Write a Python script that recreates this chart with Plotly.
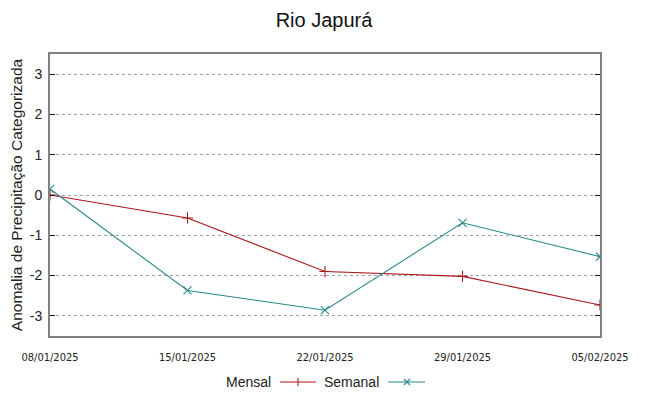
import plotly.graph_objects as go

dates = ["08/01/2025", "15/01/2025", "22/01/2025", "29/01/2025", "05/02/2025"]
mensal = [0.0, -0.57, -1.90, -2.02, -2.73]
semanal = [0.15, -2.37, -2.86, -0.69, -1.53]
yticks = [-3, -2, -1, 0, 1, 2, 3]
ytick_labels = ["-3", "-2", "-1", "0", "1", "2", "3"]

RED = "#a8181c"
TEAL = "#2a8888"

fig = go.Figure()
fig.add_trace(go.Scatter(x=dates, y=mensal, mode="lines+markers", name="Mensal",
                         line=dict(color=RED, width=1.1),
                         marker=dict(symbol="cross-thin", size=8, line=dict(color=RED, width=1.1))))
fig.add_trace(go.Scatter(x=dates, y=semanal, mode="lines+markers", name="Semanal",
                         line=dict(color=TEAL, width=1.1),
                         marker=dict(symbol="x-thin", size=8, line=dict(color=TEAL, width=1.1))))

OFF = 8  # page body margin compensation
W, H = 648 - OFF, 396 - OFF
L, R, T, B = 50 - OFF, 48, 54 - OFF, 60
pw, ph = W - L - R, H - T - B

def px(x):
    return (x - OFF - L) / pw

def py(y):
    return (H - B - (y - OFF)) / ph

# custom legend (text left of sample, gnuplot style)
ly = 382
legend_items = [("Mensal", 273, 280, 316, 298, RED, "plus"),
                ("Semanal", 381, 388, 425, 407, TEAL, "x")]
for name, tx, x0, x1, xm, col, kind in legend_items:
    fig.add_annotation(x=px(tx), y=py(ly), xref="paper", yref="paper", text=name,
                       showarrow=False, xanchor="right", yanchor="middle",
                       font=dict(family="Liberation Sans", size=14, color="#222"))
    fig.add_shape(type="line", xref="paper", yref="paper", x0=px(x0), x1=px(x1),
                  y0=py(ly), y1=py(ly), line=dict(color=col, width=1.1))
    if kind == "plus":
        fig.add_shape(type="line", xref="paper", yref="paper", x0=px(xm), x1=px(xm),
                      y0=py(ly - 4), y1=py(ly + 4), line=dict(color=col, width=1.1))
    else:
        fig.add_shape(type="line", xref="paper", yref="paper", x0=px(xm - 3), x1=px(xm + 3),
                      y0=py(ly - 3), y1=py(ly + 3), line=dict(color=col, width=1.1))
        fig.add_shape(type="line", xref="paper", yref="paper", x0=px(xm - 3), x1=px(xm + 3),
                      y0=py(ly + 3), y1=py(ly - 3), line=dict(color=col, width=1.1))

fig.update_layout(
    width=W, height=H,
    margin=dict(l=L, r=R, t=T, b=B, autoexpand=False),
    paper_bgcolor="white", plot_bgcolor="white",
    showlegend=False,
    title=dict(text="Rio Japurá", x=(324 - OFF) / W, xanchor="center", y=1 - (20 - OFF) / H,
               yanchor="middle",
               font=dict(family="Liberation Sans", size=20, color="#111")),
    font=dict(family="Liberation Sans", color="#222"),
)
fig.update_xaxes(type="category", range=[0, len(dates) - 1], showgrid=False,
                 showline=True, linecolor="#808080", linewidth=2, mirror=True,
                 ticks="", automargin=False, ticklabelstandoff=10,
                 tickfont=dict(family="DejaVu Sans Condensed, Liberation Sans Narrow, Liberation Sans",
                               size=11, color="#222"),
                 zeroline=False)
fig.update_yaxes(range=[-3.5, 3.5], tickvals=yticks, ticktext=ytick_labels,
                 showgrid=True, gridcolor="#a0a0a0",
                 griddash="dot", gridwidth=1, showline=True, linecolor="#808080", linewidth=2,
                 mirror="ticks", ticks="inside", ticklen=5, tickcolor="#111", tickwidth=1,
                 zeroline=False, automargin=False, ticklabelstandoff=3,
                 tickfont=dict(family="Liberation Sans", size=14, color="#222"),
                 title=dict(text="Anomalia de Precipitação Categorizada", standoff=3,
                            font=dict(family="Liberation Sans", size=15.5, color="#222")))

fig.write_html("out.html")
